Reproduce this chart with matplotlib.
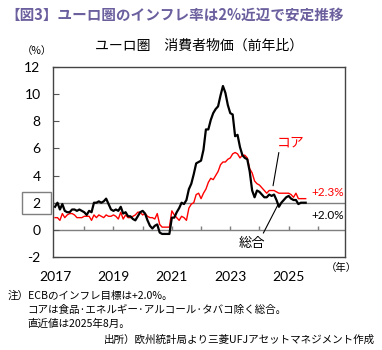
import matplotlib
matplotlib.use('Agg')
import matplotlib.pyplot as plt
from matplotlib.patches import Rectangle
import numpy as np

plt.rcParams['font.family'] = ['Noto Sans CJK JP', 'DejaVu Sans']

# monthly data, 2017-01 .. 2025-08 (% y/y)
headline = [1.7, 2.0, 1.5, 1.9, 1.4, 1.3, 1.3, 1.5, 1.5, 1.4, 1.5, 1.4,
            1.3, 1.1, 1.4, 1.3, 2.0, 2.0, 2.1, 2.0, 2.1, 2.3, 1.9, 1.5,
            1.4, 1.5, 1.4, 1.7, 1.2, 1.3, 1.0, 1.0, 0.8, 0.7, 1.0, 1.3,
            1.4, 1.2, 0.7, 0.3, 0.1, 0.3, 0.4, -0.2, -0.3, -0.3, -0.3, -0.3,
            0.9, 0.9, 1.3, 1.6, 2.0, 1.9, 2.2, 3.0, 3.4, 4.1, 4.9, 5.0,
            5.1, 5.9, 7.4, 7.4, 8.1, 8.6, 8.9, 9.1, 9.9, 10.6, 10.1, 9.2,
            8.6, 8.5, 6.9, 7.0, 6.1, 5.5, 5.3, 5.2, 4.3, 2.9, 2.4, 2.9,
            2.8, 2.6, 2.4, 2.4, 2.6, 2.5, 2.6, 2.2, 1.7, 2.0, 2.2, 2.4,
            2.5, 2.3, 2.2, 2.2, 1.9, 2.0, 2.0, 2.0]
core = [0.9, 0.9, 0.7, 1.2, 0.9, 1.1, 1.2, 1.2, 1.1, 0.9, 0.9, 0.9,
        1.0, 1.0, 1.0, 0.7, 1.1, 0.9, 1.1, 1.0, 0.9, 1.1, 1.0, 1.0,
        1.1, 1.0, 0.8, 1.3, 0.8, 1.1, 0.9, 0.9, 1.0, 1.1, 1.3, 1.3,
        1.1, 1.2, 1.0, 0.9, 0.9, 0.8, 1.2, 0.4, 0.2, 0.2, 0.2, 0.2,
        1.4, 1.1, 0.9, 0.7, 1.0, 0.9, 0.7, 1.6, 1.9, 2.0, 2.6, 2.7,
        2.3, 2.7, 3.0, 3.5, 3.8, 3.7, 4.0, 4.3, 4.8, 5.0, 5.0, 5.2,
        5.3, 5.6, 5.7, 5.6, 5.3, 5.5, 5.5, 5.3, 4.5, 4.2, 3.6, 3.4,
        3.3, 3.1, 2.9, 2.7, 2.9, 2.9, 2.9, 2.8, 2.7, 2.7, 2.7, 2.7,
        2.7, 2.6, 2.4, 2.7, 2.3, 2.3, 2.3, 2.3]
years = [2017, 2019, 2021, 2023, 2025]
yticks = [-2, 0, 2, 4, 6, 8, 10, 12]

t = 2017 + np.arange(len(headline)) / 12.0

W, H = 382, 350
fig = plt.figure(figsize=(W / 100, H / 100), dpi=100)
ax = fig.add_axes([53 / W, 1 - 257 / H, (345 - 53) / W, (257 - 67) / H])

ax.axhline(2, color='#7f7f7f', lw=1.0, zorder=1)
ax.axhline(0, color='#7f7f7f', lw=1.0, zorder=1)
ax.vlines(np.arange(2018, 2027), 0, 0.3, color='#7f7f7f', lw=1.0, zorder=1)

ax.plot(t, core, color='#ff0000', lw=1.0, zorder=3)
ax.plot(t, headline, color='black', lw=1.6, zorder=4)

ax.set_xlim(2016.93, 2026.93)
ax.set_ylim(-2, 12)
ax.set_yticks(yticks)
ax.set_yticklabels([str(v) for v in yticks], family=['Lato', 'DejaVu Sans'], fontsize=10)
ax.set_xticks(years)
ax.set_xticklabels([str(v) for v in years], family=['Lato', 'DejaVu Sans'], fontsize=10)
ax.tick_params(axis='y', direction='in', length=4, width=0.8, pad=9, color='#555555')
ax.tick_params(axis='x', length=0, pad=10)
for s in ax.spines.values():
    s.set_linewidth(1.0)
    s.set_color('#444444')

# annotations
ax.text(2024.6, 6.45, 'コア', color='#ff0000', fontsize=10, va='center')
ax.annotate('', xy=(2024.45, 3.05), xytext=(2024.68, 5.9),
            arrowprops=dict(arrowstyle='-', color='black', lw=0.8))
ax.text(2023.75, -1.0, '総合', color='black', fontsize=9.5, ha='center', va='center')
ax.annotate('', xy=(2024.67, 2.0), xytext=(2024.09, -0.42),
            arrowprops=dict(arrowstyle='-', color='black', lw=0.8))
ax.text(2025.77, 2.75, '+2.3%', color='#ff0000', fontsize=8.5, va='center',
        family=['Lato', 'DejaVu Sans'])
ax.text(2025.77, 1.05, '+2.0%', color='black', fontsize=8.5, va='center',
        family=['Lato', 'DejaVu Sans'])

# box around the "2" label
fig.add_artist(Rectangle((22 / W, 1 - 214 / H), 29 / W, 22 / H, transform=fig.transFigure,
                         fill=False, edgecolor='#7f7f7f', lw=1.0))

fig.text(5 / W, 1 - 15 / H, '【図3】ユーロ圏のインフレ率は2%近辺で安定推移',
         color='#6b5f9e', fontsize=10.5, fontweight='bold', va='center')
fig.text(199 / W, 1 - 46 / H, 'ユーロ圏　消費者物価（前年比）', fontsize=10,
         ha='center', va='center')
fig.text(37 / W, 1 - 51 / H, '（%）', fontsize=7.5, ha='center', va='center')
fig.text(341 / W, 1 - 268 / H, '（年）', fontsize=7.5, ha='center', va='center')

fig.text(8 / W, 1 - 296 / H, '注）ECBのインフレ目標は+2.0%。', fontsize=7.6, va='center')
fig.text(27 / W, 1 - 310 / H, 'コアは食品·エネルギー·アルコール·タバコ除く総合。', fontsize=7.6, va='center')
fig.text(27 / W, 1 - 324 / H, '直近値は2025年8月。', fontsize=7.6, va='center')
fig.text(375 / W, 1 - 340 / H, '出所）欧州統計局より三菱UFJアセットマネジメント作成',
         fontsize=7.6, ha='right', va='center')

fig.savefig('out.png', dpi=100)
